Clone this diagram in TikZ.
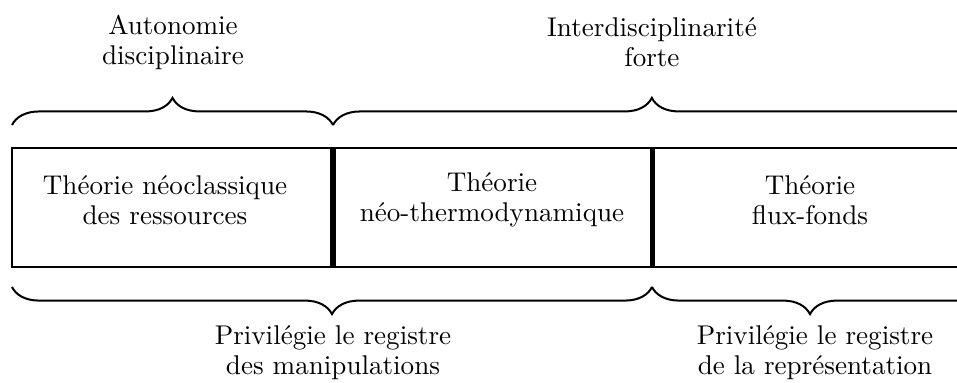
\documentclass[tikz,border=0pt]{standalone}
\usetikzlibrary{positioning,decorations.pathreplacing}
\tikzset{lbl/.style={align=center, inner sep=0pt, font=\fontsize{10.8}{12}\selectfont}}
\tikzset{brc/.style={draw, thick, decorate, decoration={brace, amplitude=0.38cm}}}
\tikzset{brcdown/.style={brc, decoration={brace, mirror, amplitude=0.38cm}}}
\tikzset{cut/.style={draw, line width=2pt}}

\begin{document}
\begin{tikzpicture}[x=0.014cm, y=-0.014cm]
	\useasboundingbox (0,0) rectangle (957,382);
	% the band of theories (open to the right)
	\coordinate (NW) at (12,148);
	\coordinate (SW) at (12,267);
	\coordinate (NE) at (1000,148);
	\coordinate (SE) at (1000,267);
	\coordinate (A1) at (333,148);
	\coordinate (A2) at (333,267);
	\coordinate (B1) at (652,148);
	\coordinate (B2) at (652,267);
	\draw[semithick] (NE) -- (NW) -- (SW) -- (SE);
	\draw[cut] (A1) -- (A2);
	\draw[cut] (B1) -- (B2);
	
	\node[lbl] (neo) at (165,200) {Théorie néoclassique\\des ressources};
	\node[lbl] (thermo) at (492,200) {Théorie\\néo-thermodynamique};
	\node[lbl] (flux) at (810,200) {Théorie\\flux-fonds};
	
	% braces above
	\coordinate (t0) at (12,125);
	\coordinate (t1) at (333,125);
	\coordinate (t2) at (1000,125);
	\draw[brc] (t0) -- (t1);
	\draw[brc, decoration={aspect=0.478}] (t1) -- (t2);
	\node[lbl] (auto) at (173,42) {Autonomie\\disciplinaire};
	\node[lbl] (inter) at (652,42) {Interdisciplinarité\\forte};
	
	% braces below
	\coordinate (b0) at (12,287);
	\coordinate (b1) at (652,287);
	\coordinate (b2) at (1000,287);
	\draw[brcdown] (b0) -- (b1);
	\draw[brcdown, decoration={aspect=0.454}] (b1) -- (b2);
	\node[lbl] (manip) at (333,353) {Privilégie le registre\\des manipulations};
	\node[lbl] (repr) at (815,353) {Privilégie le registre\\de la représentation};
\end{tikzpicture}
\end{document}
